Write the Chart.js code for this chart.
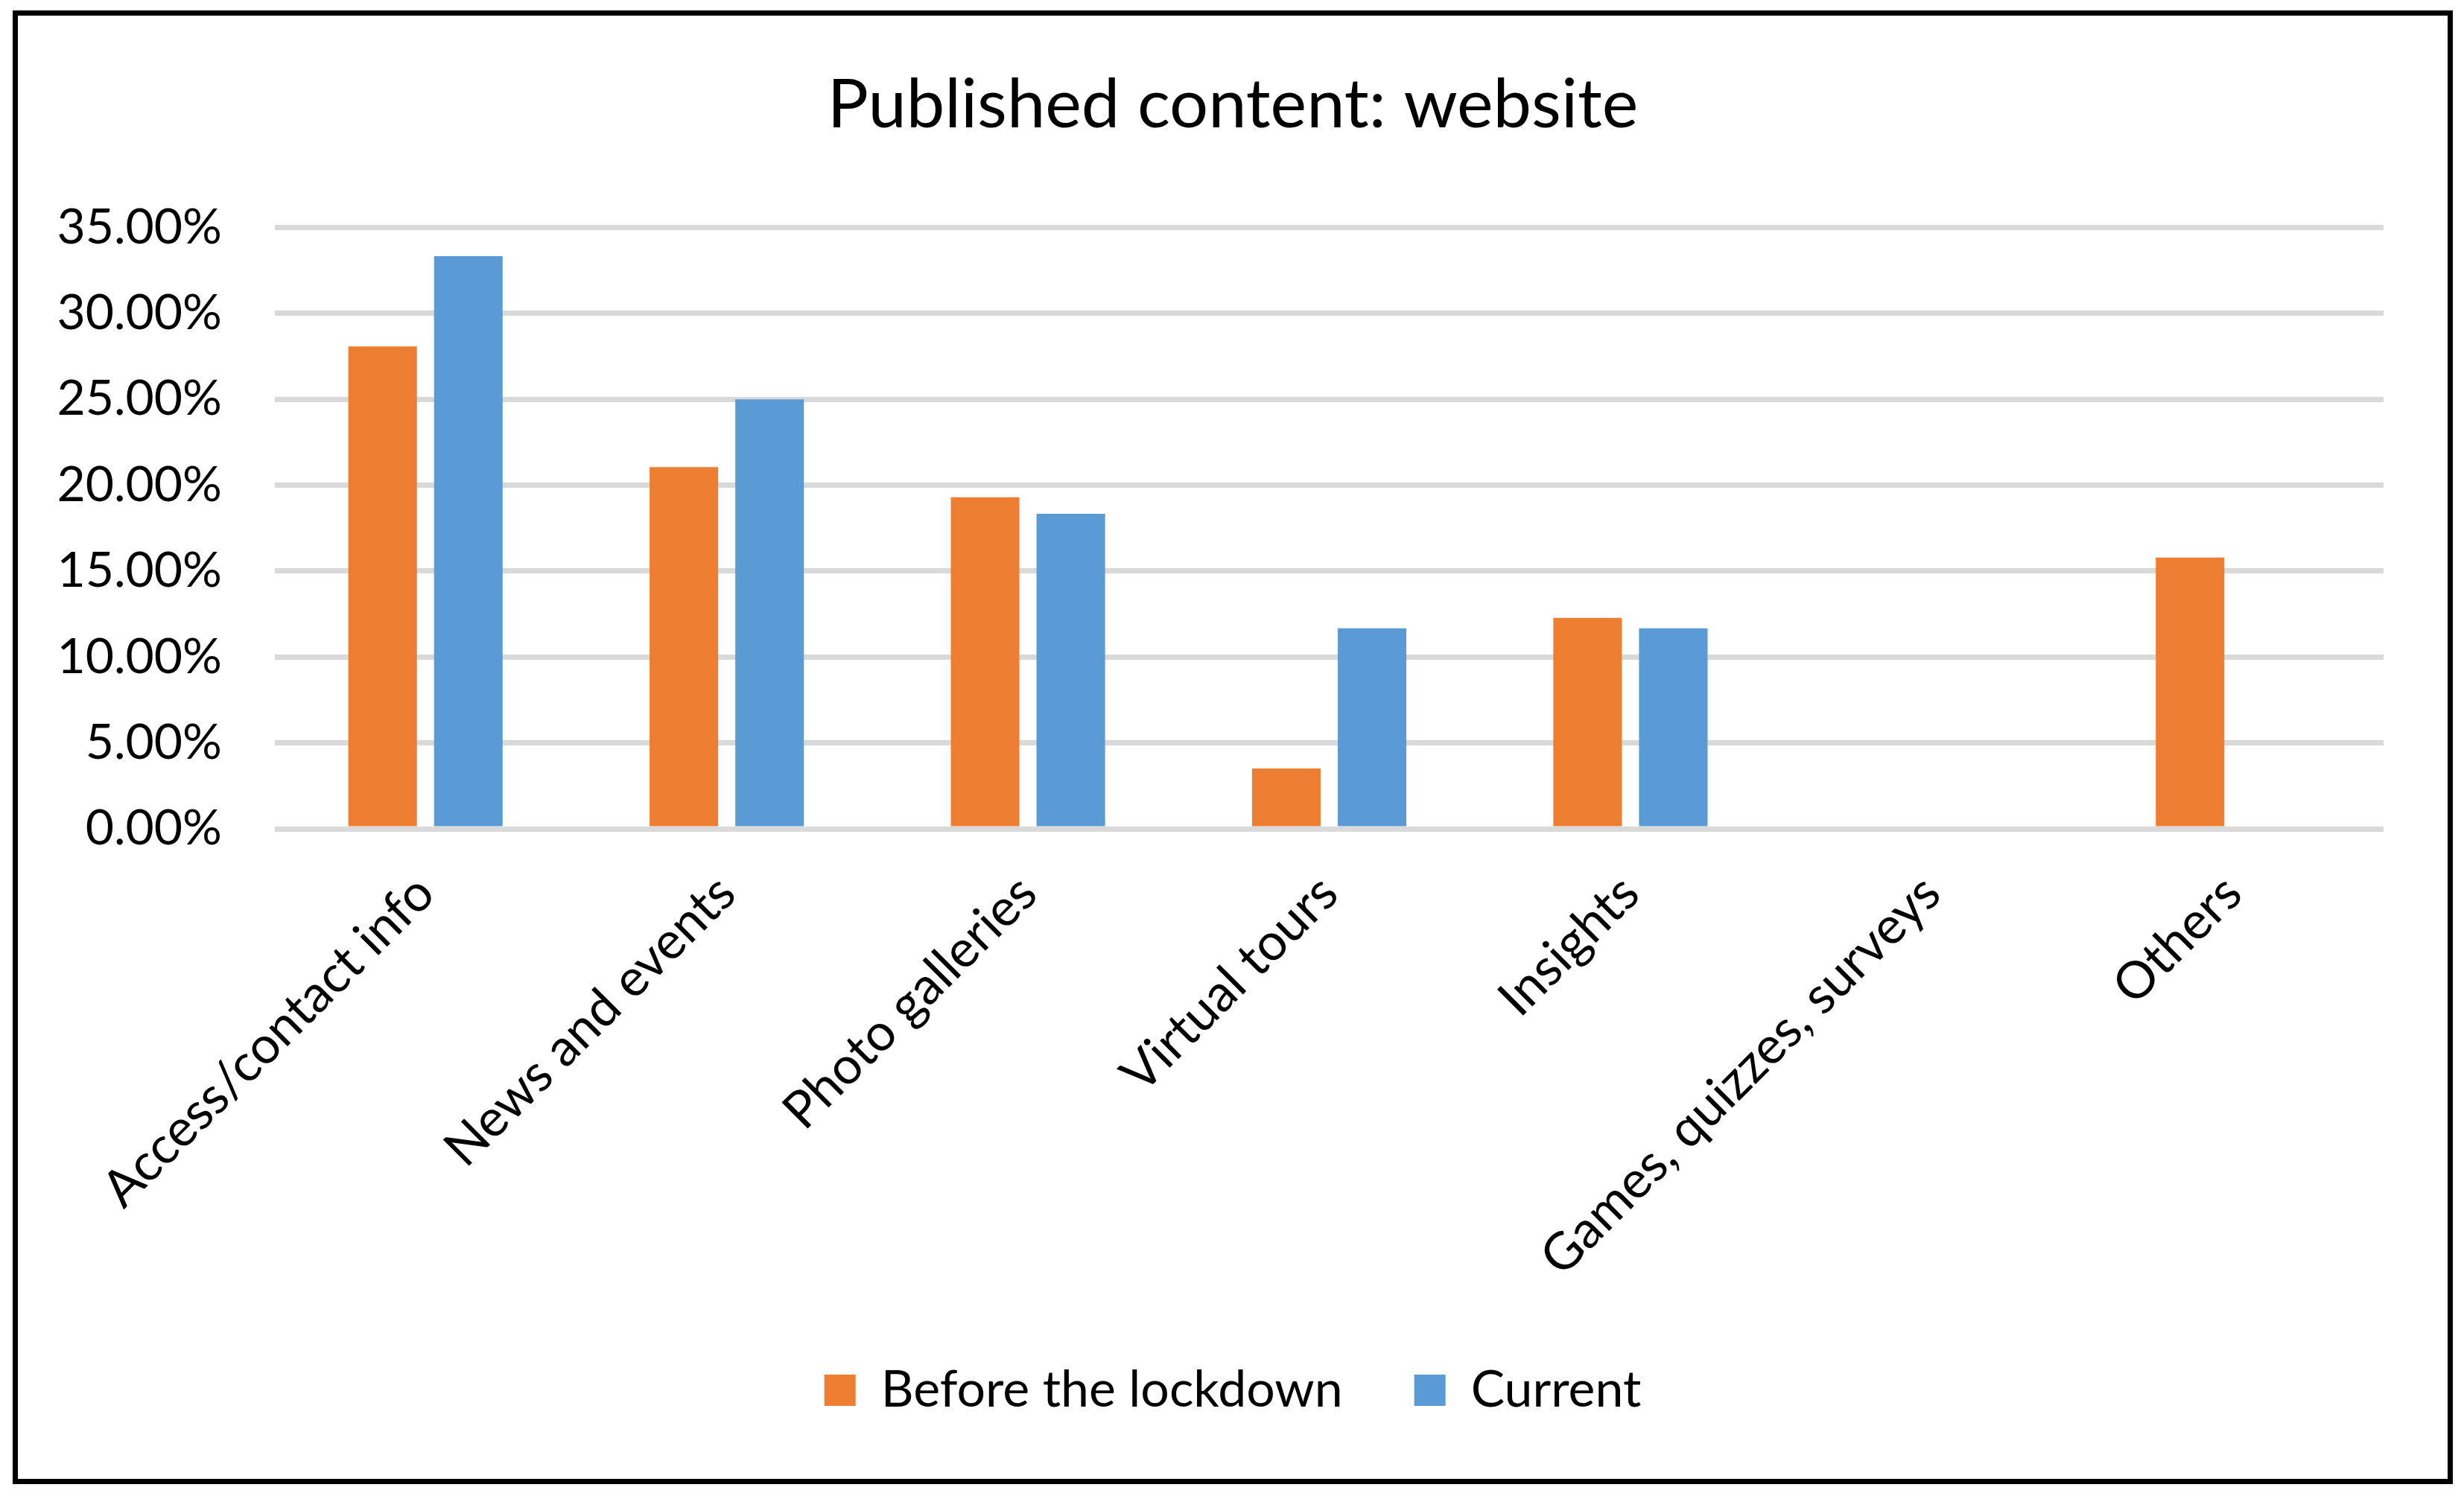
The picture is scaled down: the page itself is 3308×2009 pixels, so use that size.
<!DOCTYPE html>
<html>
<head>
<meta charset="utf-8">
<title>Published content: website</title>
<script src="https://cdn.jsdelivr.net/npm/chart.js@4.4.1/dist/chart.umd.min.js"></script>
<style>
  html, body { margin: 0; padding: 0; background: #fff; }
  #frame {
    position: absolute;
    left: 17px;
    top: 14px;
    width: 3276px;
    height: 1979px;
    box-sizing: border-box;
    border: 7px solid #000;
    background: #fff;
  }
  #wrap { position: relative; width: 3262px; height: 1965px; }
</style>
</head>
<body>
<div id="frame"><div id="wrap"><canvas id="chart"></canvas></div></div>
<script>
// Published content on museum websites, share of answers (%)

const categories = [
  "Access/contact info",
  "News and events",
  "Photo galleries",
  "Virtual tours",
  "Insights",
  "Games, quizzes, surveys",
  "Others",
];
const seriesNames = ["Before the lockdown", "Current"];
const beforeLockdown = [28.07, 21.05, 19.3, 3.51, 12.28, 0, 15.79];
const current = [33.33, 25.0, 18.33, 11.67, 11.67, 0, 0];
const yTicks = [0, 5, 10, 15, 20, 25, 30, 35];

const FONT = "Lato, 'Open Sans', 'Liberation Sans', sans-serif";
const ORANGE = "#ED7D31";
const BLUE = "#5B9BD5";

function renderChart() {
  new Chart(document.getElementById("chart"), {
    type: "bar",
    data: {
      labels: categories,
      datasets: [
        {
          label: seriesNames[0],
          data: beforeLockdown,
          backgroundColor: ORANGE,
        },
        {
          label: seriesNames[1],
          data: current,
          backgroundColor: BLUE,
        },
      ],
    },
    options: {
      responsive: true,
      maintainAspectRatio: false,
      animation: false,
      categoryPercentage: 0.569,
      barPercentage: 0.8,
      layout: { padding: { left: 40, right: 40, top: 0, bottom: 75 } },
      plugins: {
        title: {
          display: true,
          text: "Published content: website",
          color: "#000",
          font: { family: FONT, size: 92, weight: "normal" },
          padding: { top: 65, bottom: 109 },
        },
        legend: {
          position: "bottom",
          labels: {
            color: "#000",
            font: { family: FONT, size: 68 },
            boxWidth: 42,
            boxHeight: 42,
            padding: 96,
          },
        },
        tooltip: { enabled: false },
      },
      scales: {
        x: {
          grid: { display: false, drawTicks: false },
          border: { display: false },
          ticks: {
            color: "#000",
            font: { family: FONT, size: 69 },
            maxRotation: 45,
            minRotation: 45,
            autoSkip: false,
            padding: 46,
          },
          afterFit: (scale) => {
            scale.height = 624;
          },
        },
        y: {
          min: 0,
          max: 35,
          afterBuildTicks: (scale) => {
            scale.ticks = yTicks.map((v) => ({ value: v }));
          },
          grid: { color: "#D9D9D9", lineWidth: 7, drawTicks: false },
          border: { display: false },
          ticks: {
            color: "#000",
            font: { family: FONT, size: 66 },
            padding: 71,
            callback: (v) => v.toFixed(2) + "%",
          },
          afterFit: (scale) => {
            scale.width = 305;
          },
        },
        // empty right-hand axis, only reserves the margin right of the plot
        spacer: {
          type: "linear",
          position: "right",
          grid: { display: false, drawTicks: false },
          border: { display: false },
          ticks: { display: false },
          afterFit: (scale) => {
            scale.width = 46;
          },
        },
      },
    },
  });
}

renderChart();
</script>
</body>
</html>
